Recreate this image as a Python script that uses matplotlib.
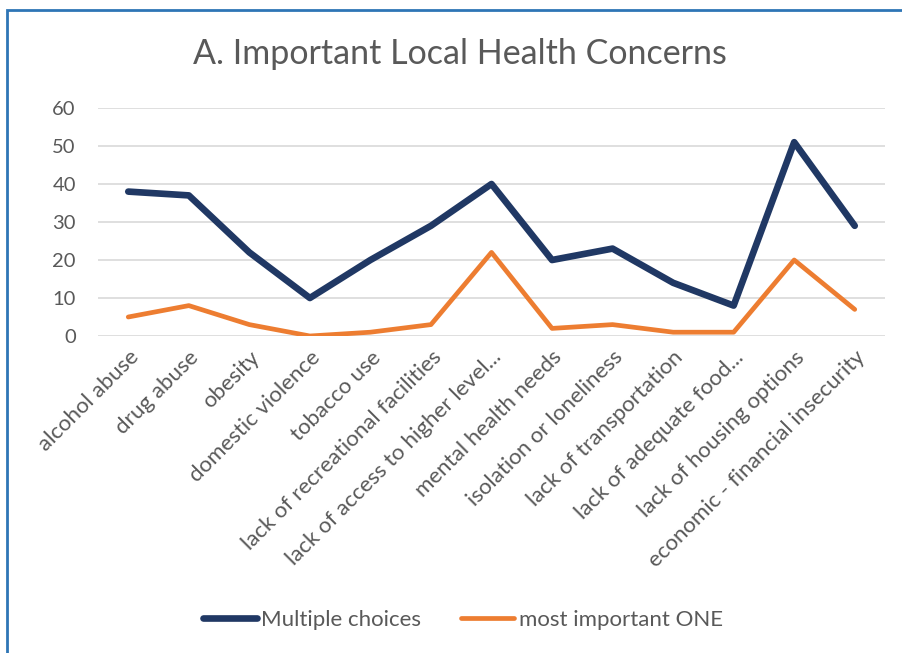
import matplotlib
matplotlib.use("Agg")
import matplotlib.pyplot as plt
from matplotlib.patches import Rectangle

categories = ["alcohol abuse", "drug abuse", "obesity", "domestic violence",
              "tobacco use", "lack of recreational facilities",
              "lack of access to higher level...", "mental health needs",
              "isolation or loneliness", "lack of transportation",
              "lack of adequate food...", "lack of housing options",
              "economic - financial insecurity"]
multiple_choices = [38, 37, 22, 10, 20, 29, 40, 20, 23, 14, 8, 51, 29]
most_important = [5, 8, 3, 0, 1, 3, 22, 2, 3, 1, 1, 20, 7]
yticks = [0, 10, 20, 30, 40, 50, 60]

plt.rcParams['font.family'] = ['Lato', 'DejaVu Sans']
W, H = 903, 653
fig = plt.figure(figsize=(W / 100, H / 100), dpi=100)

# chart border (only top and left visible in frame)
fig.add_artist(Rectangle((7 / W, -0.1), 1.2, (H - 10) / H + 0.1,
                         transform=fig.transFigure, fill=False,
                         edgecolor="#2E75B6", linewidth=2.0))

ax = fig.add_axes([98 / W, 1 - 336 / H, (885 - 98) / W, (336 - 108) / H])
x = list(range(len(categories)))
ax.plot(x, multiple_choices, color="#203864", linewidth=4.8,
        solid_capstyle="round", solid_joinstyle="round", label="Multiple choices")
ax.plot(x, most_important, color="#ED7D31", linewidth=3.4,
        solid_capstyle="round", solid_joinstyle="round", label="most important ONE")

ax.set_xlim(-0.5, len(categories) - 0.5)
ax.set_ylim(0, 60)
ax.set_yticks(yticks)
ax.yaxis.grid(True, color="#D9D9D9", linewidth=1.2)
ax.set_axisbelow(True)
for s in ax.spines.values():
    s.set_visible(False)
ax.tick_params(axis="both", length=0, colors="#595959")
ax.tick_params(axis="y", pad=16, labelsize=14.5)
ax.set_xticks(x)
ax.set_xticklabels(categories, rotation=45, ha="right", va="top",
                   rotation_mode="anchor", fontsize=16, color="#595959")
ax.tick_params(axis="x", pad=8)

fig.text(460 / W, 1 - 54 / H, "A. Important Local Health Concerns",
         ha="center", va="center", fontsize=24.5, color="#595959")

leg = fig.legend(loc="center", bbox_to_anchor=(463 / W, 1 - 620 / H), ncol=2,
                 frameon=False, fontsize=16, handlelength=2.4,
                 handletextpad=0.2, columnspacing=1.8)
for t in leg.get_texts():
    t.set_color("#595959")

fig.savefig("out.png", dpi=100, facecolor="white")
